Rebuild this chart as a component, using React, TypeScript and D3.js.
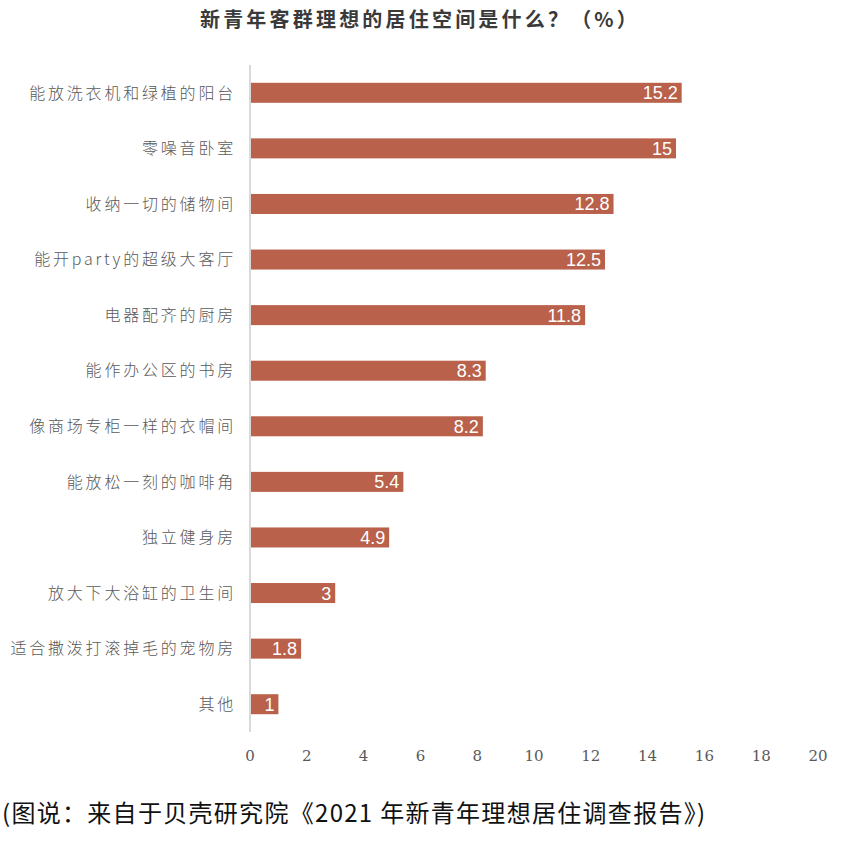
import { useEffect, useRef } from "react";
import * as d3 from "d3";

const TITLE = "新青年客群理想的居住空间是什么？（%）";
const CAPTION = "(图说：来自于贝壳研究院《2021 年新青年理想居住调查报告》)";

const categories = [
  "能放洗衣机和绿植的阳台",
  "零噪音卧室",
  "收纳一切的储物间",
  "能开party的超级大客厅",
  "电器配齐的厨房",
  "能作办公区的书房",
  "像商场专柜一样的衣帽间",
  "能放松一刻的咖啡角",
  "独立健身房",
  "放大下大浴缸的卫生间",
  "适合撒泼打滚掉毛的宠物房",
  "其他",
];
const values = [15.2, 15, 12.8, 12.5, 11.8, 8.3, 8.2, 5.4, 4.9, 3, 1.8, 1];
const xTicks = [0, 2, 4, 6, 8, 10, 12, 14, 16, 18, 20];

const BAR = "#b9614a";
const W = 863;
const H = 842;

export default function App() {
  const ref = useRef<SVGSVGElement | null>(null);

  useEffect(() => {
    const svg = d3.select(ref.current);
    svg.selectAll("*").remove();

    const margin = { top: 65, right: 45, bottom: 110, left: 250 };
    const x = d3.scaleLinear().domain([0, 20]).range([margin.left, W - margin.right]);
    const y = d3
      .scaleBand()
      .domain(categories)
      .range([margin.top, H - margin.bottom])
      .paddingInner(0.64)
      .paddingOuter(0.32);

    svg
      .append("text")
      .attr("x", 420)
      .attr("y", 27)
      .attr("text-anchor", "middle")
      .attr("font-family", "'Noto Sans CJK SC', sans-serif")
      .attr("font-weight", 700)
      .attr("font-size", 20)
      .attr("letter-spacing", 3.2)
      .attr("fill", "#3a3a3a")
      .text(TITLE);

    // bars
    svg
      .append("g")
      .selectAll("rect")
      .data(values)
      .join("rect")
      .attr("x", x(0) + 1)
      .attr("y", (_, i) => y(categories[i])!)
      .attr("width", (d) => x(d) - x(0) - 1)
      .attr("height", y.bandwidth())
      .attr("fill", BAR);

    // values
    svg
      .append("g")
      .selectAll("text")
      .data(values)
      .join("text")
      .attr("x", (d) => x(d) - 4)
      .attr("y", (_, i) => y(categories[i])! + y.bandwidth() / 2)
      .attr("dy", "0.36em")
      .attr("text-anchor", "end")
      .attr("font-family", "'Liberation Sans', Arial, sans-serif")
      .attr("font-size", 18)
      .attr("fill", "#ffffff")
      .text((d) => String(d));

    // category labels
    svg
      .append("g")
      .selectAll("text")
      .data(categories)
      .join("text")
      .attr("x", 236)
      .attr("y", (d) => y(d)! + y.bandwidth() / 2)
      .attr("dy", "0.36em")
      .attr("text-anchor", "end")
      .attr("font-family", "'Noto Sans CJK SC', sans-serif")
      .attr("font-weight", 300)
      .attr("font-size", 16)
      .attr("letter-spacing", 2.8)
      .attr("fill", "#595959")
      .text((d) => d);

    // axis line
    svg
      .append("line")
      .attr("x1", x(0))
      .attr("x2", x(0))
      .attr("y1", margin.top)
      .attr("y2", H - margin.bottom)
      .attr("stroke", "#d9d9d9")
      .attr("stroke-width", 2);

    // x tick labels
    svg
      .append("g")
      .selectAll("text")
      .data(xTicks)
      .join("text")
      .attr("x", (d) => x(d))
      .attr("y", 761)
      .attr("text-anchor", "middle")
      .attr("font-family", "'DejaVu Serif', serif")
      .attr("font-size", 15)
      .attr("fill", "#595959")
      .text((d) => String(d));

    svg
      .append("text")
      .attr("x", 2)
      .attr("y", 822)
      .attr("font-family", "'Noto Sans CJK SC', sans-serif")
      .attr("font-size", 24)
      .attr("letter-spacing", 1.3)
      .attr("fill", "#111111")
      .text(CAPTION);
  }, []);

  return (
    <svg
      ref={ref}
      width={W}
      height={H}
      style={{ position: "absolute", left: 0, top: 0, background: "#fff" }}
    />
  );
}
